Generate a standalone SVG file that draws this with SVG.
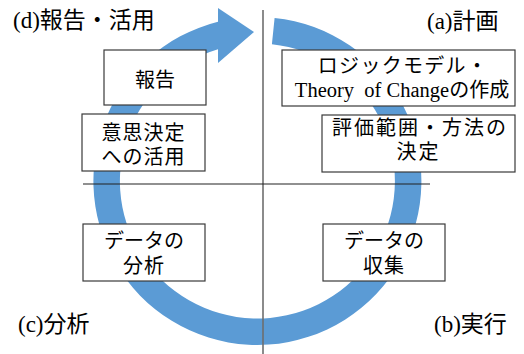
<svg xmlns="http://www.w3.org/2000/svg" width="524" height="354" viewBox="0 0 524 354">
<style>
.box{fill:#fff;stroke:#3a3a3a;stroke-width:1.2}
.t{font-family:"Noto Sans CJK JP","Noto Sans",sans-serif;font-size:20px;fill:#000;text-anchor:middle}
.c{font-family:"Liberation Serif","Noto Sans CJK JP",serif;font-size:23px;fill:#000}
.j{font-family:"Noto Sans CJK JP",sans-serif}
.s{font-family:"Liberation Serif",serif}
</style>
<rect width="524" height="354" fill="#fff"/>
<g id="cycle-arrow">
<path d="M274.6,17.9 A164,164 0 1 1 218,21.8 L218,8 L254,32 L218,63 L218,49.3 A137.5,137.5 0 1 0 271.9,44.3 Z" fill="#5B9BD5"/>
</g>
<g id="connectors">
<line x1="263" y1="10" x2="263" y2="354" stroke="#6e6e6e" stroke-width="1.6"/>
<line x1="83" y1="184" x2="430" y2="184" stroke="#222" stroke-width="1.1"/>
</g>
<g id="n-report">
<rect class="box" x="104" y="50" width="102" height="55"/>
<text class="t" x="155" y="87">報告</text>
</g>
<g id="n-decision">
<rect class="box" x="82" y="114" width="123" height="57"/>
<text class="t" x="143.5" y="140" letter-spacing="1">意思決定</text>
<text class="t" x="143.5" y="164" letter-spacing="1">への活用</text>
</g>
<g id="n-logic">
<rect class="box" x="282" y="50" width="233" height="56"/>
<text class="t" x="403" y="73" letter-spacing="1.3">ロジックモデル・</text>
<text class="t" x="402" y="97"><tspan class="s" font-size="20.5px">Theory&#160; of Change</tspan>の作成</text>
</g>
<g id="n-scope">
<rect class="box" x="322" y="115" width="193" height="57"/>
<text class="t" x="420" y="135" letter-spacing="2">評価範囲・方法の</text>
<text class="t" x="418.5" y="159" letter-spacing="2">決定</text>
</g>
<g id="n-analysis">
<rect class="box" x="83" y="224" width="122" height="57"/>
<text class="t" x="144" y="248">データの</text>
<text class="t" x="144" y="273" letter-spacing="1">分析</text>
</g>
<g id="n-collect">
<rect class="box" x="323" y="224" width="122" height="57"/>
<text class="t" x="384" y="248">データの</text>
<text class="t" x="384" y="273" letter-spacing="1">収集</text>
</g>
<g id="labels">
<text class="c" x="13" y="28">(d)<tspan class="j">報告・活用</tspan></text>
<text class="c" x="427" y="29">(a)<tspan class="j">計画</tspan></text>
<text class="c" x="18" y="332">(c)<tspan class="j">分析</tspan></text>
<text class="c" x="434" y="332">(b)<tspan class="j">実行</tspan></text>
</g>
</svg>
